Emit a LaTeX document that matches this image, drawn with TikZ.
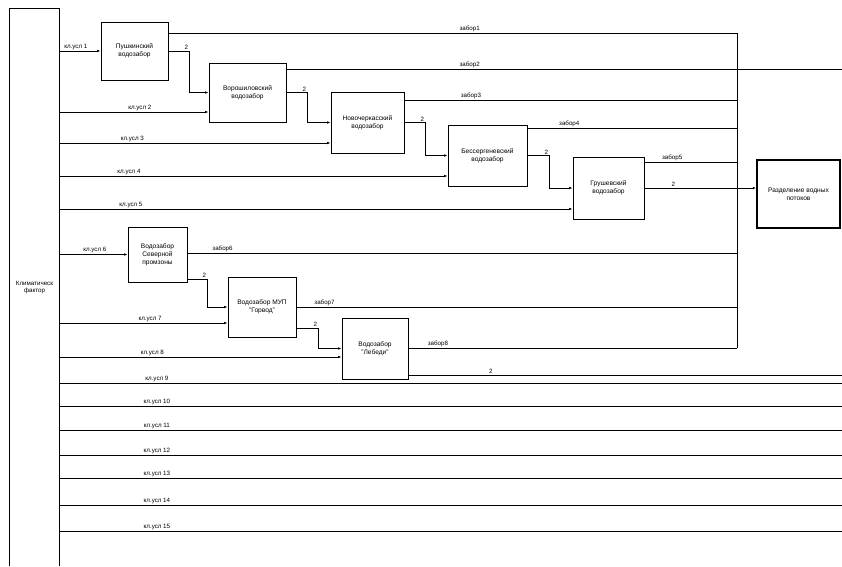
\documentclass[tikz,border=0pt]{standalone}
\usepackage{fontspec}
\setmainfont{Liberation Sans}
\usetikzlibrary{arrows.meta}
\begin{document}
\begin{tikzpicture}[x=1pt,y=-1pt,
  box/.style={draw,line width=0.7pt,align=center,inner sep=1pt,font=\fontsize{6.6}{8}\selectfont},
  ln/.style={line width=0.7pt},
  arr/.style={ln,-{Latex[length=3.5pt,width=2.5pt]}},
  lbl/.style={font=\fontsize{6.2}{7}\selectfont,inner sep=1pt,anchor=south},
  two/.style={font=\fontsize{6.2}{7}\selectfont,inner sep=1pt,anchor=south east}]
\useasboundingbox (0,0) rectangle (842,566);

% left column
\node[minimum width=49pt,minimum height=557pt,inner sep=0,align=center,
      font=\fontsize{6.2}{7.5}\selectfont] (kf) at (34.5,287.5) {Климатическ\\фактор};
\draw[line width=1.2pt] (kf.south west) -- (kf.north west) -- (kf.north east) -- (kf.south east);

% boxes
\node[box,minimum width=67pt,minimum height=58pt] (b1) at (134.5,51) {Пушкинский\\водозабор};
\node[box,minimum width=77pt,minimum height=59pt] (b2) at (247.5,92.5) {Ворошиловский\\водозабор};
\node[box,minimum width=73pt,minimum height=61pt] (b3) at (367.5,122.5) {Новочеркасский\\водозабор};
\node[box,minimum width=79pt,minimum height=61pt] (b4) at (487.5,155.5) {Бессергеневский\\водозабор};
\node[box,minimum width=71pt,minimum height=62pt] (b5) at (608.5,188) {Грушевский\\водозабор};
\node[box,line width=1.4pt,minimum width=83pt,minimum height=68pt] (fin) at (798.5,194) {Разделение водных\\потоков};
\node[box,minimum width=59pt,minimum height=55pt] (b6) at (157.5,254.5) {Водозабор\\Северной\\промзоны};
\node[box,minimum width=68pt,minimum height=60pt] (b7) at (262,307) {Водозабор МУП\\"Горвод"};
\node[box,minimum width=66pt,minimum height=61pt] (b8) at (375,348.5) {Водозабор\\"Лебеди"};

% coordinates
\coordinate (k1) at (737,33);
\coordinate (e2) at (842,69);
\coordinate (k3) at (737,100);
\coordinate (k4) at (737,128);
\coordinate (k5) at (737,162);
\coordinate (k6) at (737,253);
\coordinate (k7) at (737,307);
\coordinate (k8) at (737,348);
\coordinate (e8) at (842,375);
\coordinate (u2) at (59,112);
\coordinate (u3) at (59,143);
\coordinate (u4) at (59,176);
\coordinate (u5) at (59,209);
\coordinate (u7) at (59,323);
\coordinate (u8) at (59,357);

% collector
\draw[ln] (k1) -- (k8);

% chain 1
\draw[arr] (kf.east |- b1.west) -- node[lbl,pos=0.4]{кл.усл 1} (b1.west);
\draw[ln] (b1.east |- k1) -- node[lbl,pos=0.53]{забор1} (k1);
\draw[arr] (b1.east) -- ++(21,0) node[two]{2} |- (b2.west);

\draw[arr] (u2) -- node[lbl,pos=0.54]{кл.усл 2} (u2 -| b2.west);
\draw[ln] (b2.east |- e2) -- node[lbl,pos=0.33]{забор2} (e2);
\draw[arr] (b2.east) -- ++(21,0) node[two]{2} |- (b3.west);

\draw[arr] (u3) -- node[lbl,pos=0.27]{кл.усл 3} (u3 -| b3.west);
\draw[ln] (b3.east |- k3) -- node[lbl,pos=0.2]{забор3} (k3);
\draw[arr] (b3.east) -- ++(21,0) node[two]{2} |- (b4.west);

\draw[arr] (u4) -- node[lbl,pos=0.18]{кл.усл 4} (u4 -| b4.west);
\draw[ln] (b4.east |- k4) -- node[lbl,pos=0.2]{забор4} (k4);
\draw[arr] (b4.east) -- ++(22,0) node[two]{2} |- (b5.west);

\draw[arr] (u5) -- node[lbl,pos=0.14]{кл.усл 5} (u5 -| b5.west);
\draw[ln] (b5.east |- k5) -- node[lbl,pos=0.3]{забор5} (k5);
\draw[arr] (b5.east) -- node[lbl,pos=0.26]{2} (b5.east -| fin.west);

% chain 2
\draw[arr] (kf.east |- b6.west) -- node[lbl,pos=0.52]{кл.усл 6} (b6.west);
\draw[ln] (b6.east |- k6) -- node[lbl,pos=0.064]{забор6} (k6);
\draw[arr] ([yshift=-24.5pt]b6.east) -- ++(20,0) node[two]{2} |- (b7.west);

\draw[arr] (u7) -- node[lbl,pos=0.54]{кл.усл 7} (u7 -| b7.west);
\draw[ln] (b7.east |- k7) -- node[lbl,pos=0.064]{забор7} (k7);
\draw[arr] ([yshift=-21pt]b7.east) -- ++(22,0) node[two]{2} |- (b8.west);

\draw[arr] (u8) -- node[lbl,pos=0.33]{кл.усл 8} (u8 -| b8.west);
\draw[ln] (b8.east |- k8) -- node[lbl,pos=0.09]{забор8} (k8);
\draw[ln] ([yshift=-26.5pt]b8.east) -- node[lbl,pos=0.19]{2} (e8);

% remaining climate conditions
\foreach \n/\yy in {9/383,10/406,11/430,12/455,13/478,14/505,15/531}{
  \coordinate (s\n) at (59,\yy);
  \coordinate (t\n) at (842,\yy);
  \draw[ln] (s\n) -- node[lbl,pos=0.125]{кл.усл \n} (t\n);
}
\end{tikzpicture}
\end{document}
